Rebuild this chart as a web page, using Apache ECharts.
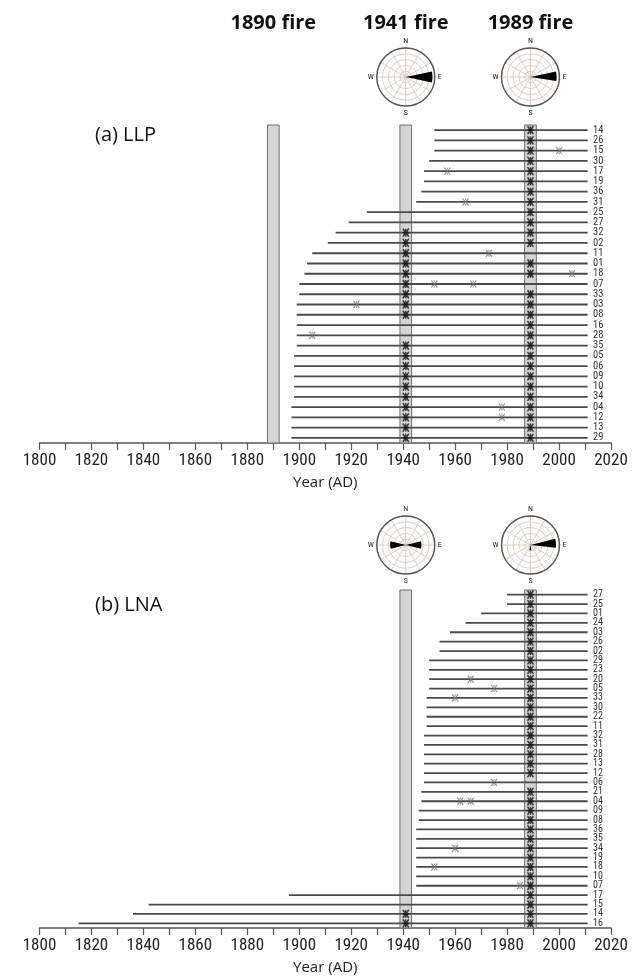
<!DOCTYPE html>
<html><head><meta charset="utf-8">
<script src="https://cdn.jsdelivr.net/npm/echarts@6/dist/echarts.min.js"></script>
<style>html,body{margin:0;padding:0;background:#fff}#c{width:637px;height:978px}</style>
</head><body><div id="c"></div>
<script>
// ---------- DATA ----------
const xMin = 1800, xMax = 2020, xTickStep = 10, xLabelStep = 20;

// (a) LLP  (top to bottom)
const llpIds   = ['14','26','15','30','17','19','36','31','25','27','32','02','11','01','18','07','33','03','08','16','28','35','05','06','09','10','34','04','12','13','29'];
const llpStart = [1952,1952,1952,1950,1948,1948,1947,1945,1926,1919,1914,1911,1905,1903,1902,1900,1900,1899,1899,1899,1899,1899,1898,1898,1898,1898,1898,1897,1897,1897,1897];
const llpEnd   = [2011,2011,2011,2011,2011,2011,2011,2011,2011,2011,2011,2011,2011,2011,2011,2011,2011,2011,2011,2011,2011,2011,2011,2011,2011,2011,2011,2011,2011,2011,2011];
const llpScars = [[1989],[1989],[1989,2000],[1989],[1957,1989],[1989],[1989],[1964,1989],[1989],[1989],
  [1941,1989],[1941,1989],[1941,1973],[1941,1989],[1941,1989,2005],[1941,1952,1967],[1941,1989],[1922,1941,1989],[1941,1989],[1989],
  [1905,1989],[1941,1989],[1941,1989],[1941,1989],[1941,1989],[1941,1989],[1941,1989],[1941,1978,1989],[1941,1978,1989],[1941,1989],[1941,1989]];
const llpFires = [1890, 1941, 1989];

// (b) LNA  (top to bottom)
const lnaIds   = ['27','25','01','24','03','26','02','29','23','20','05','33','30','22','11','32','31','28','13','12','06','21','04','09','08','36','35','34','19','18','10','07','17','15','14','16'];
const lnaStart = [1980,1980,1970,1964,1958,1954,1954,1950,1950,1950,1950,1949,1949,1949,1949,1948,1948,1948,1948,1948,1948,1947,1947,1946,1946,1945,1945,1945,1945,1945,1945,1945,1896,1842,1836,1815];
const lnaEnd   = [2011,2011,2011,2011,2011,2011,2011,2011,2011,2011,2011,2011,2011,2011,2011,2011,2011,2011,2011,2011,2011,2011,2011,2011,2011,2011,2011,2011,2011,2011,2011,2011,2011,2011,2011,2011];
const lnaScars = [[1989],[1989],[1989],[1989],[1989],[1989],[1989],[1989],[1989],[1966,1989],[1975,1989],[1960,1989],[1989],[1989],[1989],[1989],[1989],[1989],[1989],[1989],
  [1975],[1989],[1962,1966,1989],[1989],[1989],[1989],[1989],[1960,1989],[1989],[1952,1989],[1989],[1985,1989],[1989],[1989],[1941,1989],[1941,1989]];
const lnaFires = [1941, 1989];

// wind roses: [radius (0-1), startAngleDeg, endAngleDeg] (compass degrees)
const roseLLP1941 = [[0.92, 78, 102]];
const roseLLP1989 = [[0.90, 78, 99]];
const roseLNA1941 = [[0.54, 256, 284], [0.54, 76, 104]];
const roseLNA1989 = [[0.88, 76, 96], [0.18, 170, 192]];

const fireTitles = ['1890 fire', '1941 fire', '1989 fire'];
const panelNames = ['(a) LLP', '(b) LNA'];
const compass = {0:'N', 90:'E', 180:'S', 270:'W'};

// ---------- STYLE ----------
const NARROW = '"Roboto Condensed","Liberation Sans Narrow","DejaVu Sans Condensed","Arial Narrow",Roboto,sans-serif';
const HUM = '"Open Sans","Noto Sans",sans-serif';
const bandHalf = 2.25;

const chart = echarts.init(document.getElementById('c'), null, {renderer: 'canvas'});

function xAxisCfg(gi) {
  return {
    gridIndex: gi, type: 'value', min: xMin, max: xMax, interval: xTickStep,
    axisLine: {show: true, lineStyle: {color: '#555', width: 1.5}},
    axisTick: {show: true, length: 7, lineStyle: {color: '#555', width: 1.2}},
    axisLabel: {formatter: v => (v % xLabelStep === 0 ? String(v) : ''), fontFamily: NARROW, fontSize: 17, color: '#222', margin: 9, showMinLabel: true, showMaxLabel: true},
    splitLine: {show: false},
    name: 'Year (AD)', nameLocation: 'middle', nameGap: 32,
    nameTextStyle: {fontFamily: HUM, fontSize: 15, color: '#222'}
  };
}
function yAxisCfg(gi, ids, fs) {
  return {
    gridIndex: gi, type: 'category', data: ids, inverse: true, position: 'right',
    axisLine: {show: false}, axisTick: {show: false}, splitLine: {show: false},
    axisLabel: {interval: 0, margin: -18, align: 'left', fontFamily: NARROW, fontSize: fs, color: '#333'}
  };
}
function bandSeries(gi, fires) {
  return {
    type: 'custom', xAxisIndex: gi, yAxisIndex: gi, z: 1, silent: true,
    data: fires.map(f => [f, 0]), encode: {x: 0, y: 1},
    renderItem: (params, api) => {
      const cs = params.coordSys;
      const f = api.value(0);
      const x1 = api.coord([f - bandHalf, 0])[0], x2 = api.coord([f + bandHalf, 0])[0];
      return {type: 'rect', shape: {x: x1, y: cs.y, width: x2 - x1, height: cs.height},
        style: {fill: '#d4d4d4', stroke: '#707070', lineWidth: 1}};
    }
  };
}
function lineSeries(gi, start, end) {
  return {
    type: 'custom', xAxisIndex: gi, yAxisIndex: gi, z: 2, silent: true,
    data: start.map((s, i) => [s, i, end[i]]), encode: {x: [0, 2], y: 1},
    renderItem: (params, api) => {
      const p1 = api.coord([api.value(0), api.value(1)]);
      const p2 = api.coord([api.value(2), api.value(1)]);
      return {type: 'line', shape: {x1: p1[0], y1: p1[1], x2: p2[0], y2: p2[1]},
        style: {stroke: '#4a4a4a', lineWidth: 1.8}};
    }
  };
}
function scarSeries(gi, scars, fires, isFire) {
  const data = [];
  scars.forEach((lst, i) => lst.forEach(y => { if (fires.includes(y) === isFire) data.push([y, i]); }));
  return isFire ? {
    type: 'scatter', xAxisIndex: gi, yAxisIndex: gi, z: 4, silent: true, data,
    symbol: 'path://M0,0L8,10M8,0L0,10M4,0L4,10M0,5L8,5', symbolSize: [6, 8],
    itemStyle: {color: 'rgba(0,0,0,0)', borderColor: '#111', borderWidth: 1.6}
  } : {
    type: 'scatter', xAxisIndex: gi, yAxisIndex: gi, z: 3, silent: true, data,
    symbol: 'path://M0,0L8,9M8,0L0,9M4,0L4,2M4,7L4,9', symbolSize: [6, 7],
    itemStyle: {color: 'rgba(0,0,0,0)', borderColor: '#7a7a7a', borderWidth: 1.2}
  };
}
function polarAxes(pi) {
  return {
    angle: {
      polarIndex: pi, type: 'value', min: 0, max: 360, interval: 30, startAngle: 90, clockwise: true,
      axisLine: {show: true, lineStyle: {color: '#555', width: 1.4}},
      axisTick: {show: false},
      axisLabel: {formatter: v => compass[v] || '', fontSize: 8, fontFamily: NARROW, color: '#222', margin: 3},
      splitLine: {show: true, lineStyle: {color: '#d6c3b6', width: 0.8}}
    },
    radius: {
      polarIndex: pi, type: 'value', min: 0, max: 1, interval: 0.2,
      axisLine: {show: false}, axisTick: {show: false}, axisLabel: {show: false},
      splitLine: {show: true, lineStyle: {color: '#d6c3b6', width: 0.8}}
    }
  };
}
function roseSeries(pi, rose) {
  return {
    type: 'custom', coordinateSystem: 'polar', polarIndex: pi, z: 5, silent: true,
    data: rose, encode: {radius: 0, angle: 1},
    renderItem: (params, api) => {
      const r = api.value(0), a1 = api.value(1), a2 = api.value(2);
      const pts = [api.coord([0, a1])];
      for (let k = 0; k <= 10; k++) pts.push(api.coord([r, a1 + (a2 - a1) * k / 10]));
      return {type: 'polygon', shape: {points: pts}, style: {fill: '#000'}};
    }
  };
}

const roseDefs = [
  {grid: 0, year: 1941, cy: 77, data: roseLLP1941},
  {grid: 0, year: 1989, cy: 77, data: roseLLP1989},
  {grid: 1, year: 1941, cy: 545, data: roseLNA1941},
  {grid: 1, year: 1989, cy: 545, data: roseLNA1989}
];
const pax = roseDefs.map((d, i) => polarAxes(i));

const option = {
  animation: false,
  grid: [
    {left: 39.5, right: 26, top: 125, height: 318},
    {left: 39.5, right: 26, top: 590, height: 338}
  ],
  xAxis: [xAxisCfg(0), xAxisCfg(1)],
  yAxis: [yAxisCfg(0, llpIds, 10.5), yAxisCfg(1, lnaIds, 10)],
  polar: roseDefs.map(d => ({center: [0, d.cy], radius: 29})),
  angleAxis: pax.map(p => p.angle),
  radiusAxis: pax.map(p => p.radius),
  series: [
    bandSeries(0, llpFires), lineSeries(0, llpStart, llpEnd), scarSeries(0, llpScars, llpFires, false), scarSeries(0, llpScars, llpFires, true),
    bandSeries(1, lnaFires), lineSeries(1, lnaStart, lnaEnd), scarSeries(1, lnaScars, lnaFires, false), scarSeries(1, lnaScars, lnaFires, true),
    ...roseDefs.map((d, i) => roseSeries(i, d.data))
  ]
};
chart.setOption(option);

// place roses and titles at fire-year positions
const px = (gi, yr) => chart.convertToPixel({xAxisIndex: gi}, yr);
chart.setOption({
  polar: roseDefs.map(d => ({center: [px(d.grid, d.year), d.cy], radius: 29})),
  graphic: [
    ...llpFires.map((f, i) => ({type: 'text', x: px(0, f), y: 23, style: {text: fireTitles[i], font: 'bold 20px ' + HUM, fill: '#111', textAlign: 'center', textVerticalAlign: 'middle'}})),
    {type: 'text', x: 95, y: 135, style: {text: panelNames[0], font: '20px ' + HUM, fill: '#111', textVerticalAlign: 'middle'}},
    {type: 'text', x: 95, y: 605, style: {text: panelNames[1], font: '20px ' + HUM, fill: '#111', textVerticalAlign: 'middle'}}
  ]
});
</script></body></html>
